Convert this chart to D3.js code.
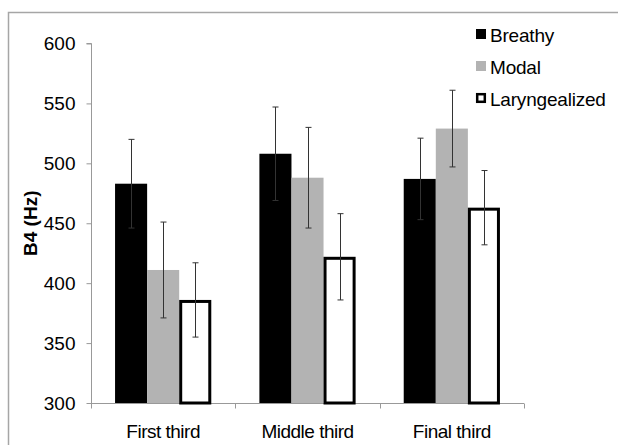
<!DOCTYPE html>
<html lang="en">
<head>
  <meta charset="UTF-8">
  <title>B4 by phonation</title>
  <script src="https://d3js.org/d3.v7.min.js"></script>
  <style>
    body { margin: 0; background: #fff; }
    text { font-family: "Liberation Sans", Arial, sans-serif; fill: #000; }
  </style>
</head>
<body>
  <div id="viz"></div>

  <script>
    const categories = ['First third', 'Middle third', 'Final third'];
    const seriesNames = ['Breathy', 'Modal', 'Laryngealized'];
    // means per category, one array per series
    const breathy = [483, 508, 487];
    const modal = [411, 488, 529];
    const laryngealized = [386, 422, 463];
    // error bar half-widths
    const breathyErr = [37, 39, 34];
    const modalErr = [40, 42, 32];
    const laryngealizedErr = [31, 36, 31];
    const yTicks = [300, 350, 400, 450, 500, 550, 600];

    const seriesValues = [breathy, modal, laryngealized];
    const seriesErrs = [breathyErr, modalErr, laryngealizedErr];

    const W = 618, H = 445;
    const plotL = 91, plotR = 524, plotT = 43.5, plotB = 403;

    const svg = d3.select('#viz')
      .append('svg')
        .attr('width', W)
        .attr('height', H);

    // outer frame (only top & left visible)
    svg.append('path')
      .attr('d', `M8.5,${H} V12.5 H${W}`)
      .attr('fill', 'none')
      .attr('stroke', '#a6a6a6')
      .attr('stroke-width', 1.5);

    const x = d3.scaleBand().domain(categories).range([plotL, plotR]).paddingInner(0).paddingOuter(0);
    const xs = d3.scaleBand().domain(seriesNames).range([0, x.bandwidth()]).paddingInner(0).paddingOuter(0.75);
    const y = d3.scaleLinear().domain([300, 600]).range([plotB, plotT]);

    // y axis
    const yAxis = svg.append('g')
      .attr('transform', `translate(${plotL + 0.5},0)`)
      .call(d3.axisLeft(y).tickValues(yTicks).tickSize(5).tickPadding(11));
    yAxis.select('.domain').attr('stroke', '#999').attr('d', `M-5,${plotT}H0V${plotB + 4}`);
    yAxis.selectAll('.tick line').attr('stroke', '#999');
    yAxis.selectAll('.tick text').attr('font-size', 19).attr('font-family', '"Liberation Sans", Arial, sans-serif');

    // x axis
    const xAxis = svg.append('g')
      .attr('transform', `translate(0,${plotB + 0.5})`);
    xAxis.append('line')
      .attr('x1', plotL).attr('x2', plotR)
      .attr('stroke', '#999');
    xAxis.selectAll('line.sep')
      .data([plotL, x(categories[1]), x(categories[2]), plotR])
      .join('line')
        .attr('class', 'sep')
        .attr('x1', d => Math.round(d) + 0.5).attr('x2', d => Math.round(d) + 0.5)
        .attr('y1', 0).attr('y2', 5)
        .attr('stroke', '#999');
    xAxis.selectAll('text')
      .data(categories)
      .join('text')
        .attr('x', d => x(d) + x.bandwidth() / 2)
        .attr('y', 34.5)
        .attr('text-anchor', 'middle')
        .attr('font-size', 19)
        .attr('letter-spacing', -0.5)
        .text(d => d);

    // y title
    svg.append('text')
      .attr('transform', `translate(37,${(plotT + plotB) / 2}) rotate(-90)`)
      .attr('text-anchor', 'middle')
      .attr('font-size', 19)
      .attr('font-weight', 'bold')
      .text('B4 (Hz)');

    const fills = ['#000000', '#b3b3b3', '#ffffff'];

    // bars
    seriesNames.forEach((s, si) => {
      const g = svg.append('g');
      g.selectAll('rect')
        .data(categories)
        .join('rect')
          .attr('x', (c) => x(c) + xs(s) + (si === 2 ? 1.5 : 0))
          .attr('y', (c, i) => y(seriesValues[si][i]) + (si === 2 ? 1.5 : 0))
          .attr('width', xs.bandwidth() - (si === 2 ? 3 : 0))
          .attr('height', (c, i) => plotB - y(seriesValues[si][i]) - (si === 2 ? 1.5 : 0))
          .attr('fill', fills[si])
          .attr('stroke', si === 2 ? '#000' : 'none')
          .attr('stroke-width', 3);
    });

    // error bars
    seriesNames.forEach((s, si) => {
      const g = svg.append('g').attr('stroke', '#333').attr('stroke-width', 1);
      categories.forEach((c, i) => {
        const cx = Math.round(x(c) + xs(s) + xs.bandwidth() / 2) + 0.5;
        const v = seriesValues[si][i], e = seriesErrs[si][i];
        const y1 = y(v + e), y2 = y(v - e);
        g.append('line').attr('x1', cx).attr('x2', cx).attr('y1', y1).attr('y2', y2);
        g.append('line').attr('x1', cx - 3).attr('x2', cx + 3).attr('y1', y1).attr('y2', y1);
        g.append('line').attr('x1', cx - 3).attr('x2', cx + 3).attr('y1', y2).attr('y2', y2);
      });
    });

    // legend
    const legend = svg.append('g').attr('transform', 'translate(476,34)');
    const rows = legend.selectAll('g')
      .data(seriesNames)
      .join('g')
        .attr('transform', (d, i) => `translate(0,${i * 32})`);
    rows.append('rect')
      .attr('x', (d, i) => i === 2 ? 1.2 : 0)
      .attr('y', (d, i) => i === 2 ? -3.8 : -5)
      .attr('width', (d, i) => i === 2 ? 7.6 : 10)
      .attr('height', (d, i) => i === 2 ? 7.6 : 10)
      .attr('fill', (d, i) => fills[i])
      .attr('stroke', (d, i) => i === 2 ? '#000' : 'none')
      .attr('stroke-width', 2.5);
    rows.append('text')
      .attr('x', 14)
      .attr('y', 7.5)
      .attr('font-size', 19)
      .attr('letter-spacing', -0.2)
      .text(d => d);
  </script>
</body>
</html>
